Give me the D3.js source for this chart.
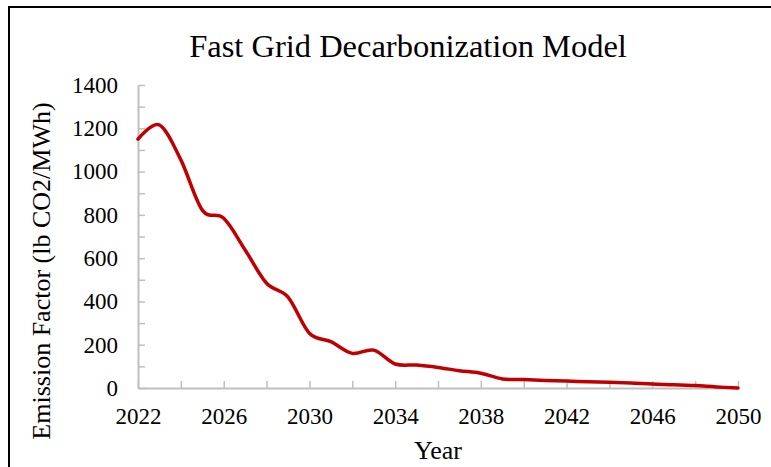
<!DOCTYPE html>
<html>
<head>
<meta charset="utf-8">
<script src="https://cdnjs.cloudflare.com/ajax/libs/d3/7.8.5/d3.min.js"></script>
<style>
  body { margin: 0; background: #fff; }
  svg { display: block; font-family: "Liberation Serif", "Times New Roman", serif; }
  .axis text { font-family: "Liberation Serif", "Times New Roman", serif; font-size: 23px; fill: #000; }
</style>
</head>
<body>
<svg id="main" width="771" height="467"></svg>
<script>
// data
var years = d3.range(2022, 2051);
var emission = [1150, 1215, 1054, 822, 784, 638, 484, 420, 253, 214, 160, 175, 111, 106,
                95, 80, 68, 42, 39, 35, 32, 29, 26, 23, 18, 15, 11, 5, 0];
var yTicks = d3.range(0, 1401, 100);
var xTicks = d3.range(2022, 2051, 2);

var chartTitle = "Fast Grid Decarbonization Model";
var xTitle = "Year";
var yTitle = "Emission Factor (lb CO2/MWh)";

var svg = d3.select("#main");

// outer chart border (runs off the right and bottom of the picture)
svg.append("rect")
  .attr("x", 9).attr("y", 7)
  .attr("width", 800).attr("height", 500)
  .style("fill", "none")
  .style("stroke", "black")
  .style("stroke-width", 2);

var x = d3.scaleLinear().domain([2022, 2050]).range([138, 738]);
var y = d3.scaleLinear().domain([0, 1400]).range([388, 85]);

// y axis
var yAxis = d3.axisLeft(y)
  .tickValues(yTicks)
  .tickFormat(function(d) { return d % 200 ? "" : d; })
  .tickSizeInner(-7)
  .tickSizeOuter(0)
  .tickPadding(20);

var gy = svg.append("g").attr("class", "axis").attr("transform", "translate(138,0)").call(yAxis);

// x axis
var xAxis = d3.axisBottom(x)
  .tickValues(xTicks)
  .tickFormat(function(d) { return (d - 2022) % 4 ? "" : d; })
  .tickSizeInner(-7)
  .tickSizeOuter(0)
  .tickPadding(20);

var gx = svg.append("g").attr("class", "axis").attr("transform", "translate(0,388)").call(xAxis);

[gx, gy].forEach(function(g) {
  g.attr("font-family", null).attr("font-size", null);
  g.select(".domain").style("stroke", "#bfbfbf").style("stroke-width", 2);
  g.selectAll(".tick line").style("stroke", "#bfbfbf").style("stroke-width", 1.5);
});

// the line
var line = d3.line()
  .x(function(d, i) { return x(years[i]); })
  .y(function(d) { return y(d); })
  .curve(d3.curveCatmullRom.alpha(0));

svg.append("path")
  .datum(emission)
  .attr("d", line)
  .style("fill", "none")
  .style("stroke", "#c00000")
  .style("stroke-width", 3.5)
  .style("stroke-linecap", "round");

// titles
svg.append("text")
  .attr("x", 408).attr("y", 57)
  .attr("text-anchor", "middle")
  .style("font-size", "32.5px")
  .text(chartTitle);

svg.append("text")
  .attr("x", 438).attr("y", 459)
  .attr("text-anchor", "middle")
  .style("font-size", "26px")
  .text(xTitle);

svg.append("text")
  .attr("transform", "translate(41,271) rotate(-90)")
  .attr("text-anchor", "middle")
  .attr("dy", "0.35em")
  .style("font-size", "26px")
  .text(yTitle);
</script>
</body>
</html>
